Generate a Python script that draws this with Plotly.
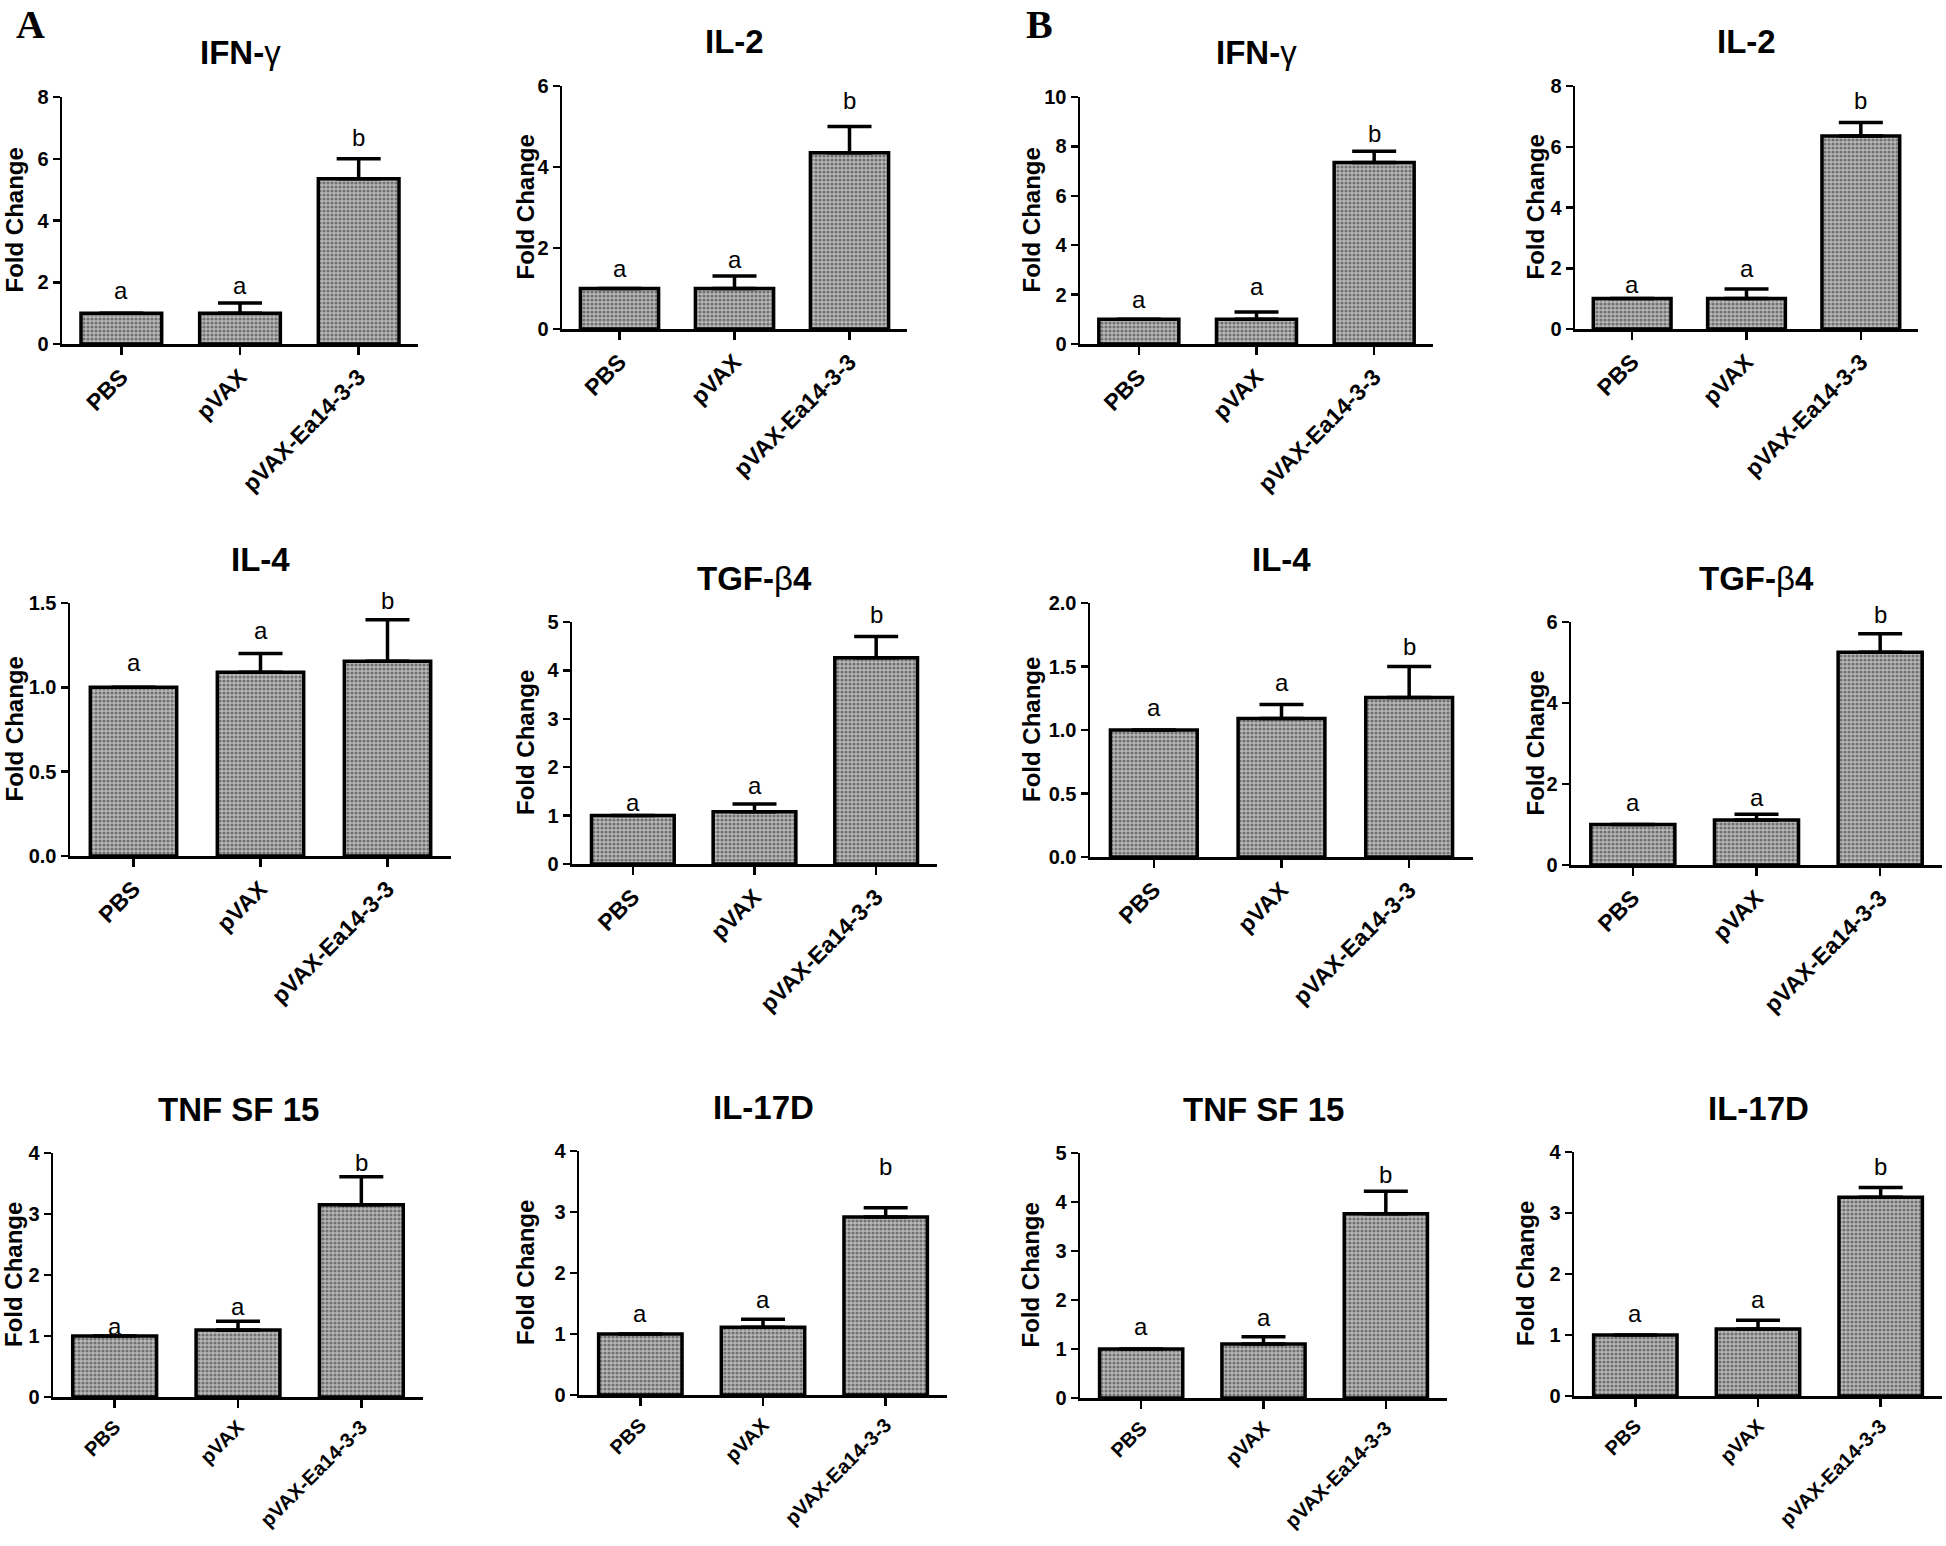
import plotly.graph_objects as go

# ---------------- data ----------------
groups = ["PBS", "pVAX", "pVAX-Ea14-3-3"]
letters = ["a", "a", "b"]

titles = ["<b>IFN-</b>γ", "<b>IL-2</b>", "<b>IFN-</b>γ", "<b>IL-2</b>",
          "<b>IL-4</b>", "<b>TGF-</b>β<b>4</b>", "<b>IL-4</b>", "<b>TGF-</b>β<b>4</b>",
          "<b>TNF SF 15</b>", "<b>IL-17D</b>", "<b>TNF SF 15</b>", "<b>IL-17D</b>"]

# means (fold change)
a_ifn = [1.0, 1.0, 5.35]
a_il2 = [1.0, 1.0, 4.35]
b_ifn = [1.0, 1.0, 7.35]
b_il2 = [1.0, 1.0, 6.35]
a_il4 = [1.0, 1.09, 1.155]
a_tgf = [1.0, 1.08, 4.26]
b_il4 = [1.0, 1.09, 1.255]
b_tgf = [1.0, 1.11, 5.25]
a_tnf = [1.0, 1.10, 3.15]
a_il17 = [1.0, 1.11, 2.92]
b_tnf = [1.0, 1.10, 3.76]
b_il17 = [1.0, 1.10, 3.26]

# error (upper, SEM)
a_ifn_err = [0, 0.33, 0.65]
a_il2_err = [0, 0.31, 0.65]
b_ifn_err = [0, 0.30, 0.45]
b_il2_err = [0, 0.32, 0.45]
a_il4_err = [0, 0.11, 0.245]
a_tgf_err = [0, 0.16, 0.44]
b_il4_err = [0, 0.11, 0.245]
b_tgf_err = [0, 0.14, 0.46]
a_tnf_err = [0, 0.14, 0.46]
a_il17_err = [0, 0.13, 0.15]
b_tnf_err = [0, 0.15, 0.46]
b_il17_err = [0, 0.14, 0.16]

# height of the significance letters (data units)
a_ifn_lab = [1.65, 1.81, 6.6]
a_il2_lab = [1.41, 1.63, 5.58]
b_ifn_lab = [1.7, 2.19, 8.4]
b_il2_lab = [1.38, 1.88, 7.43]
a_il4_lab = [1.13, 1.32, 1.5]
a_tgf_lab = [1.2, 1.55, 5.1]
b_il4_lab = [1.15, 1.35, 1.63]
b_tgf_lab = [1.46, 1.6, 6.12]
a_tnf_lab = [1.1, 1.43, 3.79]
a_il17_lab = [1.28, 1.52, 3.7]
b_tnf_lab = [1.39, 1.59, 4.51]
b_il17_lab = [1.3, 1.54, 3.72]

# y axis maxima and tick steps
y_max = [8, 6, 10, 8, 1.5, 5, 2.0, 6, 4, 4, 5, 4]
y_step = [2, 2, 2, 2, 0.5, 1, 0.5, 2, 1, 1, 1, 1]

means = [a_ifn, a_il2, b_ifn, b_il2, a_il4, a_tgf, b_il4, b_tgf, a_tnf, a_il17, b_tnf, b_il17]
errs = [a_ifn_err, a_il2_err, b_ifn_err, b_il2_err, a_il4_err, a_tgf_err, b_il4_err, b_tgf_err,
        a_tnf_err, a_il17_err, b_tnf_err, b_il17_err]
labs = [a_ifn_lab, a_il2_lab, b_ifn_lab, b_il2_lab, a_il4_lab, a_tgf_lab, b_il4_lab, b_tgf_lab,
        a_tnf_lab, a_il17_lab, b_tnf_lab, b_il17_lab]

# ---------------- layout geometry (pixels) ----------------
W, H = 1946, 1546
# (axis left, axis right, axis top, axis bottom, y-title offset, x tick font size)
geom = [
    (62, 418, 97, 344, 48, 23),
    (562, 907, 86, 329, 37, 23),
    (1080, 1433, 97, 344, 49, 23),
    (1575, 1918, 86, 329, 40, 23),
    (70, 451, 603, 856, 56, 23),
    (572, 937, 622, 864, 47, 23),
    (1090, 1473, 603, 857, 59, 23),
    (1571, 1942, 622, 865, 36, 23),
    (53, 423, 1153, 1397, 40, 20),
    (579, 947, 1151, 1395, 54, 20),
    (1080, 1447, 1153, 1398, 50, 20),
    (1574, 1942, 1152, 1396, 49, 20),
]


def px_x(x):
    return x / W


def px_y(y):
    return 1 - y / H


FONT = "Liberation Sans"
fig = go.Figure()
annotations = []
layout_axes = {}

for i in range(12):
    n = i + 1
    xs = "" if n == 1 else str(n)
    x0, x1, yt, yb, toff, xfs = geom[i]
    err_arr = [e if e > 0 else None for e in errs[i]]
    fig.add_trace(go.Bar(
        x=groups, y=means[i],
        xaxis="x" + xs, yaxis="y" + xs,
        width=0.68,
        marker=dict(
            color="#8a8a8a",
            line=dict(color="black", width=3.5),
            pattern=dict(shape=".", fgcolor="#2a2a2a", bgcolor="#b9b9b9",
                         size=4, solidity=0.5, fillmode="overlay"),
        ),
        error_y=dict(type="data", symmetric=False, array=err_arr,
                     arrayminus=[0, 0, 0], color="black", thickness=3.5, width=22),
        showlegend=False, hoverinfo="skip",
    ))
    step = y_step[i]
    nt = int(round(y_max[i] / step))
    tickvals = [k * step for k in range(nt + 1)]
    layout_axes["xaxis" + xs] = dict(
        domain=[px_x(x0), px_x(x1)], anchor="y" + xs, automargin=False,
        type="category", range=[-0.5, 2.5], fixedrange=True,
        showline=True, linecolor="black", linewidth=2.5,
        ticks="outside", ticklen=8, tickwidth=2.5, tickcolor="black",
        tickangle=-45, showgrid=False, zeroline=False,
        tickfont=dict(family=FONT, size=xfs, color="black", weight="bold"),
    )
    layout_axes["yaxis" + xs] = dict(
        domain=[px_y(yb), px_y(yt)], anchor="x" + xs, automargin=False,
        range=[0, y_max[i]], tickvals=tickvals, fixedrange=True,
        tickformat=".1f" if step < 1 else "d",
        showline=True, linecolor="black", linewidth=2.5,
        ticks="outside", ticklen=7, tickwidth=2.5, tickcolor="black",
        showgrid=False, zeroline=False,
        tickfont=dict(family=FONT, size=20, color="black", weight="bold"),
    )
    # panel title
    annotations.append(dict(
        text=titles[i], xref="x" + xs + " domain", yref="y" + xs + " domain",
        x=0.5, y=1, yshift=44, showarrow=False, xanchor="center", yanchor="middle",
        font=dict(family=FONT, size=33, color="black"),
    ))
    # y-axis title
    annotations.append(dict(
        text="<b>Fold Change</b>", xref="x" + xs + " domain", yref="y" + xs + " domain",
        x=0, y=0.5, xshift=-toff, textangle=-90, showarrow=False,
        xanchor="center", yanchor="middle",
        font=dict(family=FONT, size=24, color="black"),
    ))
    # significance letters (placed via the axis domain so they may sit above the range)
    for k, (lt, ly) in enumerate(zip(letters, labs[i])):
        annotations.append(dict(
            text=lt, xref="x" + xs + " domain", yref="y" + xs + " domain",
            x=(k + 0.5) / 3, y=ly / y_max[i], yshift=3,
            showarrow=False, xanchor="center", yanchor="middle",
            font=dict(family=FONT, size=24, color="black"),
        ))

# panel letters
annotations.append(dict(text="<b>A</b>", xref="paper", yref="paper",
                        x=px_x(30), y=px_y(25), showarrow=False,
                        xanchor="center", yanchor="middle",
                        font=dict(family="Liberation Serif", size=40, color="black")))
annotations.append(dict(text="<b>B</b>", xref="paper", yref="paper",
                        x=px_x(1039), y=px_y(25), showarrow=False,
                        xanchor="center", yanchor="middle",
                        font=dict(family="Liberation Serif", size=40, color="black")))

fig.update_layout(
    template="none",
    width=W, height=H,
    margin=dict(l=0, r=0, t=0, b=0, pad=0, autoexpand=False),
    paper_bgcolor="white", plot_bgcolor="white",
    annotations=annotations,
    hovermode=False,
    **layout_axes,
)

# remove the default 8px page margin so the figure fills the window exactly
fig.write_html(
    "out.html",
    config={"displayModeBar": False, "staticPlot": True},
    post_script="document.body.style.margin='0px';document.body.style.overflow='hidden';",
)
